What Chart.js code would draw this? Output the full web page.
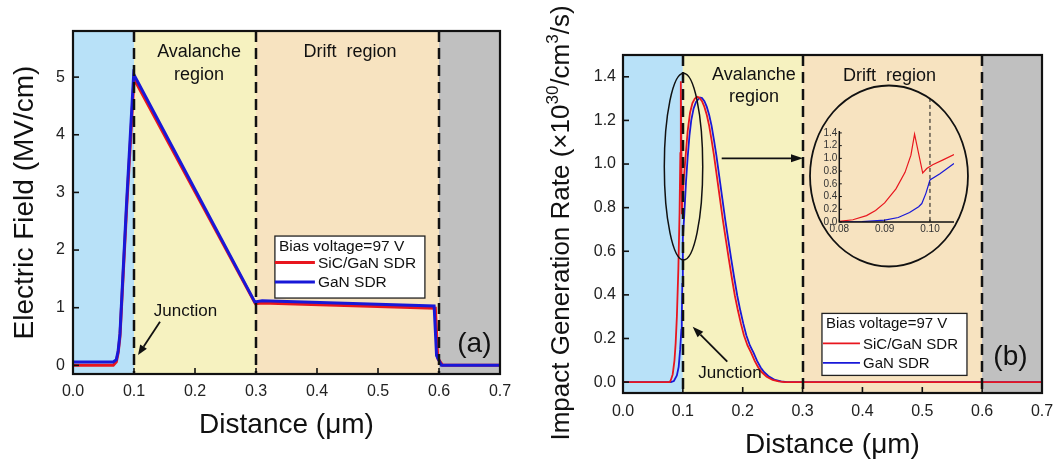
<!DOCTYPE html>
<html><head><meta charset="utf-8">
<script src="https://cdn.jsdelivr.net/npm/chart.js@4.4.1/dist/chart.umd.min.js"></script>
<style>
html,body{margin:0;padding:0;background:#fff;width:1056px;height:459px;overflow:hidden}
canvas{position:absolute}
#ca{left:0;top:0}
#cb{left:528px;top:0}
#ci{left:805px;top:80px}
</style></head><body>
<canvas id="ca" width="528" height="459"></canvas>
<canvas id="cb" width="528" height="459"></canvas>
<canvas id="ci" width="170" height="192"></canvas>
<script>
// ---------- data ----------
const regionEdges = [0, 0.1, 0.3, 0.6, 0.7];
const xTicks = [0, 0.1, 0.2, 0.3, 0.4, 0.5, 0.6, 0.7];
const yTicksA = [0, 1, 2, 3, 4, 5];
const yTicksB = [0, 0.2, 0.4, 0.6, 0.8, 1.0, 1.2, 1.4];
const insetXTicks = [0.08, 0.09, 0.10];
const insetYTicks = [0, 0.2, 0.4, 0.6, 0.8, 1.0, 1.2, 1.4];
const seriesNames = ['SiC/GaN SDR', 'GaN SDR'];

// (a) electric field, MV/cm
const fieldX_SiC = [0, 0.066, 0.071, 0.074, 0.077, 0.088, 0.1, 0.299, 0.31, 0.594, 0.598, 0.606, 0.7];
const fieldY_SiC = [0, 0, 0.06, 0.22, 0.5, 2.75, 4.97, 1.07, 1.08, 0.99, 0.12, 0, 0];
const fieldX_GaN = [0, 0.066, 0.071, 0.074, 0.077, 0.088, 0.0995, 0.298, 0.31, 0.592, 0.596, 0.604, 0.7];
const fieldY_GaN = [0.06, 0.06, 0.1, 0.25, 0.55, 2.85, 5.05, 1.10, 1.12, 1.03, 0.17, 0, 0];

// (b) impact generation rate, x10^30 /cm^3/s
const rateX_SiC = [0, 0.078, 0.08, 0.083, 0.086, 0.088, 0.09, 0.0925, 0.0945, 0.0958, 0.0966, 0.0984, 0.0993, 0.1006, 0.103, 0.1053, 0.108, 0.112, 0.116, 0.12, 0.1245,
  0.128, 0.132, 0.136, 0.14, 0.144, 0.148, 0.152, 0.157, 0.162, 0.167, 0.172, 0.177, 0.182, 0.187, 0.192, 0.197, 0.202, 0.208, 0.214, 0.22, 0.226, 0.232, 0.24, 0.25, 0.26, 0.27, 0.7];
const rateY_SiC = [0, 0, 0.01, 0.035, 0.1, 0.18, 0.3, 0.52, 0.78, 1.05, 1.38, 0.77, 0.84, 0.9, 0.98, 1.06, 1.15, 1.235, 1.28, 1.30, 1.308,
  1.303, 1.288, 1.262, 1.225, 1.175, 1.11, 1.04, 0.94, 0.84, 0.74, 0.65, 0.56, 0.475, 0.395, 0.328, 0.268, 0.215, 0.168, 0.135, 0.097, 0.067, 0.045, 0.025, 0.01, 0.003, 0, 0];
const rateX_GaN = [0, 0.08, 0.085, 0.09, 0.093, 0.0955, 0.0975, 0.0982, 0.0991, 0.1, 0.1022, 0.1053, 0.108, 0.111, 0.114, 0.118, 0.122, 0.1285,
  0.132, 0.136, 0.14, 0.144, 0.148, 0.152, 0.156, 0.161, 0.166, 0.171, 0.176, 0.181, 0.186, 0.191, 0.196, 0.201, 0.206, 0.212, 0.218, 0.224, 0.23, 0.236, 0.244, 0.254, 0.264, 0.274, 0.7];
const rateY_GaN = [0, 0, 0.005, 0.03, 0.07, 0.15, 0.24, 0.29, 0.45, 0.66, 0.76, 0.92, 1.03, 1.13, 1.2, 1.255, 1.285, 1.305,
  1.303, 1.288, 1.262, 1.225, 1.175, 1.11, 1.04, 0.94, 0.84, 0.74, 0.65, 0.56, 0.475, 0.395, 0.328, 0.268, 0.215, 0.168, 0.135, 0.097, 0.067, 0.045, 0.025, 0.01, 0.003, 0, 0];

// ---------- styles ----------
const RED = '#e8161e', BLUE = '#1818d8', INK = '#111';
const regionColors = ['#b8e1f8', '#f6f2c0', '#f7e3c0', '#c0c0c0'];
const FONT = '"Liberation Sans", Arial, sans-serif';
Chart.defaults.font.family = FONT;
Chart.defaults.color = '#1a1a1a';
Chart.defaults.animation = false;

const zip = (xs, ys) => xs.map((x, i) => ({x: x, y: ys[i]}));
const fixTicks = list => s => { s.ticks = list.map(v => ({value: v})); };

function drawRegions(chart) {
  const {ctx, chartArea: a, scales: {x}} = chart;
  ctx.save();
  for (let i = 0; i < regionColors.length; i++) {
    const x0 = x.getPixelForValue(regionEdges[i]), x1 = x.getPixelForValue(regionEdges[i + 1]);
    ctx.fillStyle = regionColors[i];
    ctx.fillRect(x0, a.top, x1 - x0, a.bottom - a.top);
  }
  ctx.restore();
}
function drawDashes(chart) {
  const {ctx, chartArea: a, scales: {x}} = chart;
  ctx.save();
  ctx.strokeStyle = INK; ctx.lineWidth = 2.5; ctx.setLineDash([11, 6]);
  regionEdges.slice(1, -1).forEach(v => {
    const px = Math.round(x.getPixelForValue(v));
    ctx.beginPath(); ctx.moveTo(px, a.top); ctx.lineTo(px, a.bottom); ctx.stroke();
  });
  ctx.restore();
}
function drawFrameTicks(chart, xt, yt) {
  const {ctx, chartArea: a, scales: {x, y}} = chart;
  ctx.save();
  ctx.strokeStyle = INK; ctx.lineWidth = 1.6;
  xt.forEach(v => { const p = x.getPixelForValue(v); ctx.beginPath(); ctx.moveTo(p, a.bottom); ctx.lineTo(p, a.bottom - 6); ctx.stroke(); });
  yt.forEach(v => { const p = y.getPixelForValue(v); ctx.beginPath(); ctx.moveTo(a.left, p); ctx.lineTo(a.left + 6, p); ctx.stroke(); });
  ctx.lineWidth = 2.2;
  ctx.strokeRect(a.left, a.top, a.right - a.left, a.bottom - a.top);
  ctx.restore();
}
function txt(ctx, s, x, y, size, align) {
  ctx.save();
  ctx.font = size + 'px ' + FONT; ctx.fillStyle = INK;
  ctx.textAlign = align || 'center'; ctx.textBaseline = 'middle';
  ctx.fillText(s, x, y);
  ctx.restore();
}
function arrow(ctx, x0, y0, x1, y1, head, hw, lw) {
  const ang = Math.atan2(y1 - y0, x1 - x0);
  const bx = x1 - head * Math.cos(ang), by = y1 - head * Math.sin(ang);
  ctx.save();
  ctx.strokeStyle = INK; ctx.fillStyle = INK; ctx.lineWidth = lw;
  ctx.beginPath(); ctx.moveTo(x0, y0); ctx.lineTo(bx, by); ctx.stroke();
  ctx.beginPath();
  ctx.moveTo(x1, y1);
  ctx.lineTo(bx + hw / 2 * Math.sin(ang), by - hw / 2 * Math.cos(ang));
  ctx.lineTo(bx - hw / 2 * Math.sin(ang), by + hw / 2 * Math.cos(ang));
  ctx.closePath(); ctx.fill();
  ctx.restore();
}
function legend(ctx, L, T, W, H, o) {
  ctx.save();
  ctx.fillStyle = '#fff'; ctx.fillRect(L, T, W, H);
  ctx.strokeStyle = '#222'; ctx.lineWidth = 1.3; ctx.strokeRect(L, T, W, H);
  txt(ctx, 'Bias voltage=97 V', L + 4, T + o.t, o.fs, 'left');
  [[RED, o.r], [BLUE, o.b]].forEach((c, i) => {
    ctx.strokeStyle = c[0]; ctx.lineWidth = o.lw;
    ctx.beginPath(); ctx.moveTo(L + o.l0, T + c[1]); ctx.lineTo(L + o.l1, T + c[1]); ctx.stroke();
    txt(ctx, seriesNames[i], L + o.tx, T + c[1] + 1, o.fs, 'left');
  });
  ctx.restore();
}

// ---------- panel (a) ----------
const decorA = {
  id: 'decorA',
  beforeDatasetsDraw(chart) { drawRegions(chart); },
  afterDatasetsDraw(chart) {
    const {ctx, scales: {x, y}} = chart;
    drawDashes(chart);
    drawFrameTicks(chart, xTicks, yTicksA);
    const X = v => x.getPixelForValue(v), Y = v => y.getPixelForValue(v);
    txt(ctx, 'Avalanche', X(0.2066), Y(5.435), 18);
    txt(ctx, 'region', X(0.2066), Y(5.04), 18);
    txt(ctx, 'Drift  region', X(0.454), Y(5.435), 18);
    txt(ctx, '(a)', X(0.658), Y(0.37), 28);
    txt(ctx, 'Junction', X(0.1844), Y(0.93), 17);
    arrow(ctx, X(0.1426), Y(0.757), X(0.1066), Y(0.18), 10, 8, 1.8);
    legend(ctx, X(0.331), Y(2.243), 150, 62, {t: 11, r: 26.5, b: 46, fs: 15.5, lw: 3, l0: 0, l1: 40, tx: 43});
  }
};
new Chart(document.getElementById('ca'), {
  type: 'line',
  data: {datasets: [
    {label: seriesNames[0], data: zip(fieldX_SiC, fieldY_SiC), borderColor: RED, borderWidth: 3, pointRadius: 0, tension: 0, order: 1},
    {label: seriesNames[1], data: zip(fieldX_GaN, fieldY_GaN), borderColor: BLUE, borderWidth: 3, pointRadius: 0, tension: 0, order: 0}
  ]},
  options: {
    responsive: false, animation: false,
    layout: {padding: {left: 0, top: 31, right: 28, bottom: 0}},
    plugins: {legend: {display: false}, tooltip: {enabled: false}},
    scales: {
      x: {type: 'linear', min: 0, max: 0.7, afterBuildTicks: fixTicks(xTicks),
        afterFit: s => { s.height = 85; s.paddingLeft = 0; s.paddingRight = 0; },
        grid: {display: false, drawTicks: false}, border: {display: false},
        ticks: {padding: 8, font: {size: 16}, color: '#222', maxRotation: 0, autoSkip: false, callback: v => v.toFixed(1)},
        title: {display: true, text: 'Distance (μm)', color: INK, font: {size: 28, lineHeight: 1}, padding: {top: 0, bottom: 20}}},
      y: {type: 'linear', min: -0.15, max: 5.8, afterBuildTicks: fixTicks(yTicksA),
        afterFit: s => { s.width = 73; s.paddingTop = 0; s.paddingBottom = 0; },
        grid: {display: false, drawTicks: false}, border: {display: false},
        ticks: {padding: 8, font: {size: 16}, color: '#222', autoSkip: false, callback: v => String(v)},
        title: {display: true, text: 'Electric Field (MV/cm)', color: INK, font: {size: 28, lineHeight: 1}, padding: {top: 11, bottom: 0}}}
    }
  },
  plugins: [decorA]
});

// ---------- panel (b) ----------
const decorB = {
  id: 'decorB',
  beforeDatasetsDraw(chart) { drawRegions(chart); },
  afterDatasetsDraw(chart) {
    const {ctx, scales: {x, y}} = chart;
    drawDashes(chart);
    drawFrameTicks(chart, xTicks, yTicksB);
    const X = v => x.getPixelForValue(v), Y = v => y.getPixelForValue(v);
    txt(ctx, 'Avalanche', X(0.2188), Y(1.408), 18);
    txt(ctx, 'region', X(0.2188), Y(1.309), 18);
    txt(ctx, 'Drift  region', X(0.4452), Y(1.404), 18);
    txt(ctx, '(b)', X(0.6473), Y(0.115), 28);
    txt(ctx, 'Junction', X(0.1787), Y(0.04), 17);
    arrow(ctx, X(0.1742), Y(0.0936), X(0.1164), Y(0.254), 11, 8, 1.8);
    arrow(ctx, X(0.1649), Y(1.026), X(0.3007), Y(1.026), 12, 8, 1.8);
    // ellipse around junction peak
    const cx = X(0.1011), cy = Y(0.988);
    ctx.save(); ctx.strokeStyle = INK; ctx.lineWidth = 1.5;
    ctx.beginPath(); ctx.ellipse(cx, cy, X(0.1011 + 0.0321) - cx, cy - Y(0.988 + 0.428), 0, 0, Math.PI * 2); ctx.stroke();
    ctx.restore();
    legend(ctx, X(0.3324), Y(0.315), 145, 62, {t: 10, r: 30, b: 49.5, fs: 15, lw: 1.6, l0: 1, l1: 38, tx: 41});
    // y-axis title with superscripts
    const parts = [['Impact Generation Rate (×10', 0], ['30', 1], ['/cm', 0], ['3', 1], ['/s)', 0]];
    ctx.save();
    ctx.translate(34, 223); ctx.rotate(-Math.PI / 2);
    ctx.fillStyle = INK; ctx.textBaseline = 'middle'; ctx.textAlign = 'left';
    let tot = 0;
    parts.forEach(p => { ctx.font = (p[1] ? 17 : 26) + 'px ' + FONT; tot += ctx.measureText(p[0]).width; });
    let cxp = -tot / 2;
    parts.forEach(p => { ctx.font = (p[1] ? 17 : 26) + 'px ' + FONT; ctx.fillText(p[0], cxp, p[1] ? -9 : 0); cxp += ctx.measureText(p[0]).width; });
    ctx.restore();
  }
};
new Chart(document.getElementById('cb'), {
  type: 'line',
  data: {datasets: [
    {label: seriesNames[0], data: zip(rateX_SiC, rateY_SiC), borderColor: RED, borderWidth: 1.8, pointRadius: 0, tension: 0, order: 0},
    {label: seriesNames[1], data: zip(rateX_GaN, rateY_GaN), borderColor: BLUE, borderWidth: 1.8, pointRadius: 0, tension: 0, order: 1}
  ]},
  options: {
    responsive: false, animation: false,
    layout: {padding: {left: 0, top: 55, right: 14, bottom: 0}},
    plugins: {legend: {display: false}, tooltip: {enabled: false}},
    scales: {
      x: {type: 'linear', min: 0, max: 0.7, afterBuildTicks: fixTicks(xTicks),
        afterFit: s => { s.height = 66; s.paddingLeft = 0; s.paddingRight = 0; },
        grid: {display: false, drawTicks: false}, border: {display: false},
        ticks: {padding: 9, font: {size: 16}, color: '#222', maxRotation: 0, autoSkip: false, callback: v => v.toFixed(1)},
        title: {display: true, text: 'Distance (μm)', color: INK, font: {size: 28, lineHeight: 1}, padding: {top: 0, bottom: 0}}},
      y: {type: 'linear', min: -0.05, max: 1.5, afterBuildTicks: fixTicks(yTicksB),
        afterFit: s => { s.width = 95; s.paddingTop = 0; s.paddingBottom = 0; },
        grid: {display: false, drawTicks: false}, border: {display: false},
        ticks: {padding: 7, font: {size: 16}, color: '#222', autoSkip: false, callback: v => v.toFixed(1)}}
    }
  },
  plugins: [decorB]
});

// ---------- inset of (b) ----------
const decorI = {
  id: 'decorI',
  afterDraw(chart) {
    const {ctx, chartArea: a, scales: {x, y}} = chart;
    const X = v => x.getPixelForValue(v), Y = v => y.getPixelForValue(v);
    ctx.save();
    ctx.strokeStyle = INK; ctx.lineWidth = 1.5;
    ctx.beginPath(); ctx.moveTo(a.left, a.top); ctx.lineTo(a.left, a.bottom); ctx.lineTo(a.right, a.bottom); ctx.stroke();
    ctx.lineWidth = 1;
    insetYTicks.forEach(v => { ctx.beginPath(); ctx.moveTo(a.left, Y(v)); ctx.lineTo(a.left + 2.5, Y(v)); ctx.stroke(); });
    insetXTicks.forEach(v => { ctx.beginPath(); ctx.moveTo(X(v), a.bottom); ctx.lineTo(X(v), a.bottom - 2.5); ctx.stroke(); });
    ctx.setLineDash([4, 3]); ctx.lineWidth = 1;
    ctx.beginPath(); ctx.moveTo(X(0.10), Y(1.95)); ctx.lineTo(X(0.10), a.bottom); ctx.stroke();
    ctx.setLineDash([]); ctx.lineWidth = 1.8;
    const cx = X(0.09096), cy = Y(0.723);
    ctx.beginPath(); ctx.ellipse(cx, cy, X(0.09096 + 0.01742) - cx, cy - Y(0.723 + 1.422), 0, 0, Math.PI * 2); ctx.stroke();
    ctx.restore();
  }
};
new Chart(document.getElementById('ci'), {
  type: 'line',
  data: {datasets: [
    {label: seriesNames[0], data: zip(rateX_SiC, rateY_SiC), borderColor: RED, borderWidth: 1.2, pointRadius: 0, tension: 0, order: 0},
    {label: seriesNames[1], data: zip(rateX_GaN, rateY_GaN), borderColor: BLUE, borderWidth: 1.2, pointRadius: 0, tension: 0, order: 1}
  ]},
  options: {
    responsive: false, animation: false,
    layout: {padding: {left: 0, top: 51, right: 21, bottom: 0}},
    plugins: {legend: {display: false}, tooltip: {enabled: false}},
    scales: {
      x: {type: 'linear', min: 0.08, max: 0.1053, afterBuildTicks: fixTicks(insetXTicks),
        afterFit: s => { s.height = 50; s.paddingLeft = 0; s.paddingRight = 0; },
        grid: {display: false, drawTicks: false}, border: {display: false},
        ticks: {padding: 1, font: {size: 10}, color: '#333', maxRotation: 0, autoSkip: false, callback: v => v.toFixed(2)}},
      y: {type: 'linear', min: 0, max: 1.43, afterBuildTicks: fixTicks(insetYTicks),
        afterFit: s => { s.width = 34.3; s.paddingTop = 0; s.paddingBottom = 0; },
        grid: {display: false, drawTicks: false}, border: {display: false},
        ticks: {padding: 2, font: {size: 10}, color: '#333', autoSkip: false, callback: v => v.toFixed(1)}}
    }
  },
  plugins: [decorI]
});
</script>
</body></html>
